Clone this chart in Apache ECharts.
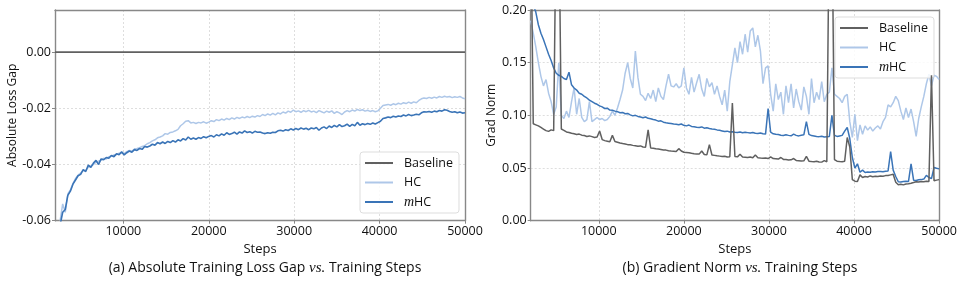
<!DOCTYPE html>
<html>
<head>
<meta charset="utf-8">
<script src="https://cdn.jsdelivr.net/npm/echarts@6/dist/echarts.min.js"></script>
<style>
html,body{margin:0;padding:0;background:#fff;}
#c{width:960px;height:285px;}
</style>
</head>
<body>
<div id="c"></div>
<script>
// ---------- (a) Absolute training loss gap ----------
// sampled every 300 steps starting at 2600
const lossStart = 2600, lossStep = 300;
const lossHC = [
 -0.0600,-0.0540,-0.0570,-0.0505,-0.0490,-0.0468,-0.0450,-0.0438,-0.0430,-0.0422,
 -0.0420,-0.0410,-0.0405,-0.0400,-0.0392,-0.0388,-0.0385,-0.0378,-0.0380,-0.0372,
 -0.0370,-0.0366,-0.0364,-0.0360,-0.0358,-0.0361,-0.0354,-0.0350,-0.0352,-0.0345,
 -0.0343,-0.0340,-0.0336,-0.0333,-0.0326,-0.0322,-0.0316,-0.0312,-0.0305,-0.0302,
 -0.0298,-0.0290,-0.0292,-0.0286,-0.0284,-0.0280,-0.0275,-0.0262,-0.0255,-0.0246,
 -0.0244,-0.0252,-0.0250,-0.0254,-0.0250,-0.0252,-0.0248,-0.0253,-0.0249,-0.0244,
 -0.0247,-0.0240,-0.0244,-0.0238,-0.0242,-0.0236,-0.0240,-0.0234,-0.0238,-0.0232,
 -0.0236,-0.0231,-0.0234,-0.0229,-0.0233,-0.0228,-0.0231,-0.0226,-0.0229,-0.0222,
 -0.0226,-0.0220,-0.0224,-0.0218,-0.0223,-0.0216,-0.0220,-0.0213,-0.0217,-0.0210,
 -0.0214,-0.0206,-0.0212,-0.0209,-0.0214,-0.0208,-0.0212,-0.0207,-0.0213,-0.0210,
 -0.0215,-0.0208,-0.0212,-0.0216,-0.0210,-0.0214,-0.0209,-0.0218,-0.0212,-0.0216,
 -0.0222,-0.0213,-0.0208,-0.0212,-0.0206,-0.0210,-0.0204,-0.0208,-0.0205,-0.0210,
 -0.0207,-0.0211,-0.0208,-0.0212,-0.0209,-0.0200,-0.0190,-0.0188,-0.0186,-0.0189,
 -0.0184,-0.0187,-0.0182,-0.0185,-0.0180,-0.0183,-0.0178,-0.0182,-0.0177,-0.0180,
 -0.0172,-0.0166,-0.0163,-0.0165,-0.0161,-0.0164,-0.0160,-0.0163,-0.0158,-0.0161,
 -0.0157,-0.0160,-0.0158,-0.0162,-0.0159,-0.0161,-0.0158,-0.0163,-0.0166
];
const lossMHC = [
 -0.0615,-0.0570,-0.0560,-0.0510,-0.0495,-0.0470,-0.0455,-0.0440,-0.0435,-0.0418,
 -0.0425,-0.0402,-0.0410,-0.0395,-0.0385,-0.0400,-0.0380,-0.0383,-0.0375,-0.0378,
 -0.0368,-0.0372,-0.0362,-0.0365,-0.0355,-0.0366,-0.0358,-0.0352,-0.0356,-0.0347,
 -0.0350,-0.0343,-0.0346,-0.0336,-0.0338,-0.0334,-0.0328,-0.0331,-0.0322,-0.0326,
 -0.0320,-0.0325,-0.0318,-0.0322,-0.0315,-0.0320,-0.0312,-0.0316,-0.0308,-0.0313,
 -0.0302,-0.0310,-0.0306,-0.0310,-0.0304,-0.0307,-0.0301,-0.0305,-0.0300,-0.0297,
 -0.0302,-0.0294,-0.0298,-0.0291,-0.0296,-0.0287,-0.0293,-0.0290,-0.0285,-0.0292,
 -0.0284,-0.0288,-0.0280,-0.0286,-0.0283,-0.0288,-0.0282,-0.0285,-0.0284,-0.0288,
 -0.0290,-0.0287,-0.0289,-0.0285,-0.0286,-0.0280,-0.0278,-0.0281,-0.0276,-0.0279,
 -0.0273,-0.0277,-0.0272,-0.0276,-0.0270,-0.0274,-0.0271,-0.0276,-0.0270,-0.0273,
 -0.0268,-0.0278,-0.0270,-0.0266,-0.0272,-0.0263,-0.0268,-0.0261,-0.0266,-0.0258,
 -0.0265,-0.0262,-0.0256,-0.0264,-0.0257,-0.0262,-0.0250,-0.0260,-0.0255,-0.0258,
 -0.0254,-0.0257,-0.0252,-0.0256,-0.0251,-0.0246,-0.0236,-0.0234,-0.0231,-0.0233,
 -0.0228,-0.0231,-0.0227,-0.0229,-0.0224,-0.0227,-0.0222,-0.0226,-0.0224,-0.0221,
 -0.0223,-0.0216,-0.0212,-0.0213,-0.0211,-0.0214,-0.0210,-0.0212,-0.0208,-0.0210,
 -0.0205,-0.0207,-0.0211,-0.0214,-0.0212,-0.0216,-0.0213,-0.0217,-0.0216
];
const lossBaseSteps = [2000, 50000];
const lossBase = [0, 0];

// ---------- (b) Gradient norm ----------
// sampled every 300 steps starting at 2000
const gradStart = 2000, gradStep = 300;
const gradBase = [
 0.30,0.092,0.091,0.090,0.0885,0.087,0.0855,0.0848,0.0862,0.0855,
 0.30,0.30,0.087,0.0858,0.0842,0.0838,0.0830,0.0825,0.0818,0.0822,
 0.0812,0.0808,0.0800,0.0805,0.0798,0.0790,0.0795,0.0852,0.0770,0.0760,
 0.0755,0.0750,0.0810,0.0752,0.0745,0.0738,0.0732,0.0728,0.0722,0.0720,
 0.0715,0.0712,0.0706,0.0710,0.0700,0.0698,0.0862,0.0690,0.0688,0.0682,
 0.0680,0.0676,0.0672,0.0670,0.0665,0.0662,0.0660,0.0656,0.0684,0.0662,
 0.0650,0.0648,0.0645,0.0640,0.0636,0.0634,0.0632,0.0662,0.0628,0.0625,
 0.0722,0.0624,0.0620,0.0616,0.0613,0.0610,0.0612,0.0605,0.0608,0.1117,
 0.0610,0.0606,0.0630,0.0604,0.0602,0.0600,0.0604,0.0598,0.0624,0.0598,
 0.0595,0.0593,0.0596,0.0590,0.0605,0.0590,0.0588,0.0585,0.0600,0.0582,
 0.0580,0.0576,0.0578,0.0590,0.0572,0.0570,0.0566,0.0568,0.0610,0.0565,
 0.0562,0.0560,0.0565,0.0558,0.0556,0.0570,0.0560,0.30,0.30,0.0580,
 0.0565,0.0562,0.0560,0.0565,0.0790,0.0700,0.0390,0.0375,0.0372,0.0435,
 0.0410,0.0420,0.0415,0.0425,0.0418,0.0422,0.0420,0.0425,0.0422,0.0428,
 0.0430,0.0435,0.0440,0.0365,0.0342,0.0345,0.0340,0.0348,0.0350,0.0355,
 0.0362,0.0370,0.0368,0.0372,0.0370,0.0375,0.0372,0.1380,0.0380,0.0385,
 0.0390
];
const gradHC = [
 0.190,0.178,0.165,0.150,0.137,0.128,0.134,0.121,0.113,0.101,
 0.108,0.150,0.100,0.097,0.104,0.098,0.113,0.126,0.101,0.116,
 0.098,0.094,0.096,0.113,0.094,0.096,0.098,0.096,0.097,0.095,
 0.096,0.099,0.104,0.100,0.107,0.115,0.124,0.140,0.150,0.135,
 0.126,0.161,0.136,0.120,0.118,0.114,0.121,0.116,0.124,0.113,
 0.126,0.118,0.115,0.128,0.139,0.128,0.127,0.130,0.126,0.128,
 0.145,0.126,0.120,0.136,0.122,0.131,0.139,0.125,0.118,0.135,
 0.127,0.131,0.120,0.128,0.118,0.110,0.124,0.104,0.132,0.148,
 0.164,0.150,0.170,0.158,0.177,0.160,0.180,0.183,0.165,0.176,
 0.161,0.130,0.145,0.147,0.120,0.104,0.130,0.115,0.122,0.101,
 0.128,0.112,0.130,0.107,0.125,0.113,0.105,0.127,0.118,0.101,
 0.135,0.112,0.122,0.115,0.132,0.113,0.120,0.122,0.145,0.120,
 0.118,0.116,0.112,0.118,0.120,0.094,0.079,0.101,0.076,0.091,
 0.082,0.090,0.086,0.089,0.085,0.088,0.090,0.087,0.094,0.098,
 0.110,0.108,0.112,0.118,0.114,0.104,0.096,0.107,0.098,0.106,
 0.094,0.080,0.097,0.108,0.118,0.130,0.139,0.128,0.138,0.137,
 0.134
];
const gradMHC = [
 0.215,0.205,0.198,0.186,0.178,0.172,0.165,0.158,0.152,0.145,
 0.140,0.138,0.137,0.135,0.134,0.141,0.129,0.126,0.124,0.121,
 0.120,0.118,0.1165,0.1145,0.113,0.1115,0.1105,0.109,0.108,0.1065,
 0.1068,0.105,0.1048,0.1040,0.1035,0.1025,0.1028,0.1015,0.1018,0.1005,
 0.0995,0.1000,0.0990,0.0985,0.0978,0.0984,0.0972,0.0968,0.0960,0.0955,
 0.0945,0.0948,0.0935,0.0930,0.0926,0.0922,0.0918,0.0915,0.0910,0.0918,
 0.0905,0.0900,0.0908,0.0895,0.0892,0.0888,0.0885,0.0890,0.0878,0.0882,
 0.0875,0.0870,0.0868,0.0862,0.0858,0.0852,0.0846,0.0850,0.0842,0.0845,
 0.0840,0.0838,0.0842,0.0835,0.0840,0.0836,0.0832,0.0838,0.0830,0.0828,
 0.0832,0.0825,0.0822,0.1065,0.0840,0.0825,0.0820,0.0818,0.0812,0.0808,
 0.0815,0.0810,0.0806,0.0822,0.0810,0.0805,0.0812,0.0815,0.0940,0.0820,
 0.0808,0.0805,0.0800,0.0798,0.0802,0.0795,0.0798,0.0800,0.1000,0.0810,
 0.0800,0.0805,0.0810,0.0850,0.0885,0.0780,0.0600,0.0500,0.0540,0.0460,
 0.0480,0.0458,0.0462,0.0460,0.0465,0.0462,0.0466,0.0468,0.0465,0.0470,
 0.0472,0.0655,0.0480,0.0420,0.0370,0.0368,0.0372,0.0375,0.0373,0.0540,
 0.0385,0.0382,0.0388,0.0390,0.0395,0.0430,0.0410,0.0400,0.0505,0.0498,
 0.0492
];

const seriesNames = ['Baseline', 'HC', 'mHC'];
const captionA = '(a) Absolute Training Loss Gap {i|vs.} Training Steps';
const captionB = '(b) Gradient Norm {i|vs.} Training Steps';

// ---------- build ----------
function grid(start, step, vals) { return vals.map((v, i) => [start + step * i, v]); }
function pairs(xs, ys) { return xs.map((x, i) => [x, ys[i]]); }

const FONT = 'Open Sans';
const COL_BASE = '#606060', COL_HC = '#aec7e8', COL_MHC = '#3a74b7';
const AXIS_COL = '#888888';
const gridLine = { show: true, lineStyle: { color: '#d6d6d6', type: [2, 2], width: 0.8 } };
const frameLine = { show: true, onZero: false, lineStyle: { color: AXIS_COL, width: 1.4 } };

function xAxisDef(gi) {
  return {
    type: 'value', gridIndex: gi, min: 2000, max: 50000, splitNumber: 5,
    name: 'Steps', nameLocation: 'middle', nameGap: 17,
    nameTextStyle: { fontFamily: FONT, fontSize: 13, color: '#111' },
    axisLine: frameLine,
    axisTick: { show: true, length: 3, lineStyle: { color: AXIS_COL } },
    axisLabel: { fontFamily: FONT, fontSize: 12.5, color: '#111', margin: 4, showMinLabel: false,
      formatter: v => String(Math.round(v)) },
    splitLine: gridLine, z: 1
  };
}
// frame-only axes (top and right edges), drawn above the dotted grid lines
function frameX(gi) {
  return { type: 'value', gridIndex: gi, min: 2000, max: 50000, position: 'top',
    axisLine: frameLine, axisTick: { show: false }, axisLabel: { show: false }, splitLine: { show: false }, z: 3 };
}
function frameY(gi, mn, mx) {
  return { type: 'value', gridIndex: gi, min: mn, max: mx, position: 'right',
    axisLine: frameLine, axisTick: { show: false }, axisLabel: { show: false }, splitLine: { show: false }, z: 3 };
}
function fmt2(v) { return Math.abs(v) < 1e-9 ? '0.00' : v.toFixed(2); }

const legendCommon = {
  orient: 'vertical', icon: 'rect', itemWidth: 28, itemHeight: 2, itemGap: 5.5,
  backgroundColor: 'rgba(255,255,255,0.85)', borderColor: '#dddddd', borderWidth: 1, borderRadius: 3,
  padding: [4, 6, 4, 5],
  data: seriesNames,
  formatter: n => n === 'mHC' ? '{i|m}HC' : n,
  textStyle: {
    fontFamily: FONT, fontSize: 12.5, color: '#111', lineHeight: 14, padding: [0, 0, 0, 6],
    rich: { i: { fontFamily: 'Liberation Serif', fontStyle: 'italic', fontSize: 14, color: '#111' } }
  }
};

const lineS = (name, xi, yi, data, color, w, z) => ({
  name, type: 'line', xAxisIndex: xi, yAxisIndex: yi, data, showSymbol: false, symbol: 'none',
  lineStyle: { color, width: w }, itemStyle: { color }, z, animation: false, clip: true
});

const option = {
  animation: false,
  grid: [
    { left: 55, top: 10, width: 410, height: 210.7, show: false },
    { left: 530.7, top: 10, width: 409.3, height: 210.7, show: false }
  ],
  xAxis: [xAxisDef(0), xAxisDef(1), frameX(0), frameX(1)],
  yAxis: [
    {
      type: 'value', gridIndex: 0, min: -0.06, max: 0.015, interval: 0.02,
      name: 'Absolute Loss Gap', nameLocation: 'middle', nameGap: 34,
      nameTextStyle: { fontFamily: FONT, fontSize: 12, color: '#111' },
      axisLine: frameLine,
      axisTick: { show: true, length: 3, lineStyle: { color: AXIS_COL } },
      axisLabel: { fontFamily: FONT, fontSize: 12.5, color: '#111', margin: 4, showMaxLabel: false, formatter: fmt2 },
      splitLine: gridLine, z: 1
    },
    {
      type: 'value', gridIndex: 1, min: 0, max: 0.2, interval: 0.05,
      name: 'Grad Norm', nameLocation: 'middle', nameGap: 31,
      nameTextStyle: { fontFamily: FONT, fontSize: 12, color: '#111' },
      axisLine: frameLine,
      axisTick: { show: true, length: 3, lineStyle: { color: AXIS_COL } },
      axisLabel: { fontFamily: FONT, fontSize: 12.5, color: '#111', margin: 4, formatter: fmt2 },
      splitLine: gridLine, z: 1
    },
    frameY(0, -0.06, 0.015),
    frameY(1, 0, 0.2)
  ],
  legend: [
    Object.assign({}, legendCommon, { left: 360, top: 152 }),
    Object.assign({}, legendCommon, { left: 835, top: 17 })
  ],
  title: [
    { text: captionA, left: 260, top: 256, textAlign: 'center',
      textStyle: { fontFamily: FONT, fontSize: 14, fontWeight: 'normal', color: '#111',
        rich: { i: { fontFamily: 'Liberation Serif', fontStyle: 'italic', fontSize: 15, color: '#111' } } } },
    { text: captionB, left: 735, top: 256, textAlign: 'center',
      textStyle: { fontFamily: FONT, fontSize: 14, fontWeight: 'normal', color: '#111',
        rich: { i: { fontFamily: 'Liberation Serif', fontStyle: 'italic', fontSize: 15, color: '#111' } } } }
  ],
  series: [
    lineS('Baseline', 0, 0, pairs(lossBaseSteps, lossBase), COL_BASE, 1.8, 3),
    lineS('HC', 0, 0, grid(lossStart, lossStep, lossHC), COL_HC, 1.5, 4),
    lineS('mHC', 0, 0, grid(lossStart, lossStep, lossMHC), COL_MHC, 1.6, 5),
    lineS('Baseline', 1, 1, grid(gradStart, gradStep, gradBase), COL_BASE, 1.5, 5),
    lineS('HC', 1, 1, grid(gradStart, gradStep, gradHC), COL_HC, 1.5, 3),
    lineS('mHC', 1, 1, grid(gradStart, gradStep, gradMHC), COL_MHC, 1.5, 4)
  ]
};

const chart = echarts.init(document.getElementById('c'), null, { renderer: 'canvas' });
chart.setOption(option);
</script>
</body>
</html>
